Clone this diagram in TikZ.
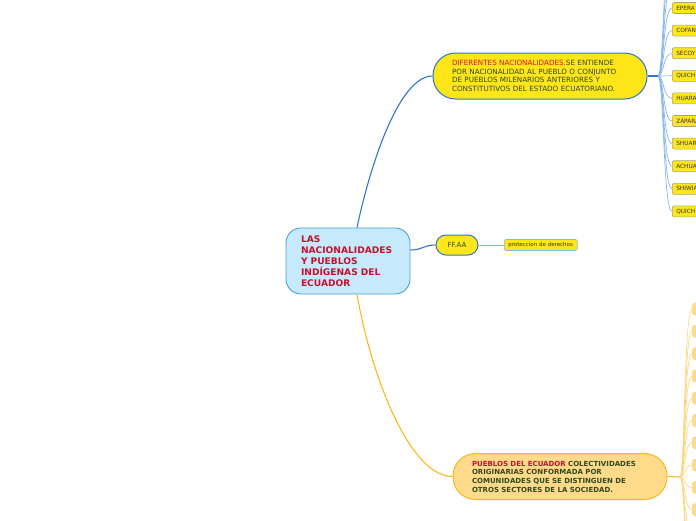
\documentclass[tikz,border=0pt]{standalone}
\usepackage{fontspec}
\setmainfont{DejaVu Sans}
\usepackage{tikz}
\usetikzlibrary{positioning}
\definecolor{rootfill}{HTML}{C6EAFB}
\definecolor{rootline}{HTML}{4A9FDB}
\definecolor{rootred}{HTML}{C8102E}
\definecolor{natyellow}{HTML}{FFE619}
\definecolor{natblue}{HTML}{2F74D0}
\definecolor{natfan}{HTML}{86B4EC}
\definecolor{puefill}{HTML}{FEDA8A}
\definecolor{pueline}{HTML}{FDB71E}
\definecolor{puefan}{HTML}{FDD77E}
\definecolor{textgreen}{HTML}{2E4A1E}
\definecolor{textred}{HTML}{E0102F}
\definecolor{boxline}{HTML}{A0A878}

\begin{document}
\begin{tikzpicture}[x=1pt, y=-1pt,
    root/.style={rectangle, rounded corners=15pt, draw=rootline, fill=rootfill,
      line width=0.9pt, text width=94pt, inner xsep=15pt, minimum height=66pt,
      align=left, text=rootred, font=\fontsize{9.1}{11}\selectfont\bfseries},
    idea/.style={rectangle, rounded corners=22.5pt, line width=1pt,
      text width=176pt, inner xsep=19pt, minimum height=46pt, align=left,
      text=textgreen, font=\fontsize{7.2}{8.7}\selectfont},
    natnode/.style={idea, draw=natblue, fill=natyellow},
    puenode/.style={idea, draw=pueline, fill=puefill, font=\fontsize{7}{8.7}\selectfont\bfseries},
    pill/.style={rectangle, rounded corners=10pt, draw=natblue, fill=natyellow,
      line width=1pt, minimum width=42pt, minimum height=20pt, text=textgreen,
      font=\fontsize{7}{8}\selectfont},
    tribe/.style={rectangle, rounded corners=2pt, draw=boxline, fill=natyellow,
      line width=0.6pt, anchor=west, text width=30pt, inner xsep=4pt,
      minimum height=11pt, inner ysep=1pt, align=left, text=black!80,
      font=\fontsize{5.8}{6.5}\selectfont},
    stub/.style={rectangle, rounded corners=3pt, draw=puefan, fill=puefill,
      line width=0.6pt, anchor=west, minimum width=20pt, minimum height=12pt},
    mainblue/.style={draw=natblue, line width=1.1pt},
    mainorange/.style={draw=pueline, line width=1.1pt},
    fanblue/.style={draw=natfan, line width=0.7pt},
    fanorange/.style={draw=puefan, line width=0.7pt},
  ]
    \useasboundingbox (0,0) rectangle (696,520);

    % central topic
    \node[root] (root) at (348,261) {LAS\\NACIONALIDADES\\Y PUEBLOS\\IND\'IGENAS DEL\\ECUADOR};

    % main branches
    \node[natnode] (nac) at (540,76) {\textcolor{textred}{DIFERENTES NACIONALIDADES.}SE ENTIENDE\\POR NACIONALIDAD AL PUEBLO O CONJUNTO\\DE PUEBLOS MILENARIOS ANTERIORES Y\\CONSTITUTIVOS DEL ESTADO ECUATORIANO.};
    \node[pill]    (ffaa) at (457,245) {FF.AA};
    \node[tribe, draw=natfan, text width=65pt, font=\fontsize{5.5}{6}\selectfont] (prot) at (504,245) {proteccion de derechos};
    \node[puenode] (pue) at (560,476.5) {\textcolor{rootred}{PUEBLOS DEL ECUADOR} COLECTIVIDADES\\ORIGINARIAS CONFORMADA POR\\COMUNIDADES QUE SE DISTINGUEN DE\\OTROS SECTORES DE LA SOCIEDAD.};

    \draw[mainblue] ([xshift=9pt]root.north) .. controls +(15,-70) and +(-32,0) .. (nac.west);
    \draw[mainblue] ([yshift=11pt]root.east) .. controls +(12,0) and +(-12,0) .. (ffaa.west);
    \draw[mainorange] ([xshift=9pt]root.south) .. controls +(15,85) and +(-42,0) .. (pue.west);
    \draw[fanblue] (ffaa.east) -- (prot.west);

    % nationalities column
    \node[tribe] (t1)  at (672,8)     {EPERA};
    \node[tribe] (t2)  at (672,30.6)  {COFAN};
    \node[tribe] (t3)  at (672,53.2)  {SECOY};
    \node[tribe] (t4)  at (672,75.8)  {QUICH};
    \node[tribe] (t5)  at (672,98.4)  {HUARA};
    \node[tribe] (t6)  at (672,121)   {Z\'APARA};
    \node[tribe] (t7)  at (672,143.6) {SHUAR};
    \node[tribe] (t8)  at (672,166.2) {ACHUA};
    \node[tribe] (t9)  at (672,188.8) {SHIWIA};
    \node[tribe] (t10) at (672,211.4) {QUICH};
    \coordinate (up1) at (672,-14.6);
    \coordinate (up2) at (672,-37.2);
    \coordinate (up3) at (672,-59.8);

    \coordinate (nacfan) at (658,76);
    \draw[mainblue] (nac.east) -- (nacfan);
    \draw[fanblue] (nacfan) .. controls +(6,0) and +(-9,0) .. (up3);
    \draw[fanblue] (nacfan) .. controls +(6,0) and +(-9,0) .. (up2);
    \draw[fanblue] (nacfan) .. controls +(6,0) and +(-9,0) .. (up1);
    \draw[fanblue] (nacfan) .. controls +(6,0) and +(-9,0) .. (t1.west);
    \draw[fanblue] (nacfan) .. controls +(6,0) and +(-9,0) .. (t2.west);
    \draw[fanblue] (nacfan) .. controls +(6,0) and +(-9,0) .. (t3.west);
    \draw[fanblue] (nacfan) -- (t4.west);
    \draw[fanblue] (nacfan) .. controls +(6,0) and +(-9,0) .. (t5.west);
    \draw[fanblue] (nacfan) .. controls +(6,0) and +(-9,0) .. (t6.west);
    \draw[fanblue] (nacfan) .. controls +(6,0) and +(-9,0) .. (t7.west);
    \draw[fanblue] (nacfan) .. controls +(6,0) and +(-9,0) .. (t8.west);
    \draw[fanblue] (nacfan) .. controls +(6,0) and +(-9,0) .. (t9.west);
    \draw[fanblue] (nacfan) .. controls +(6,0) and +(-9,0) .. (t10.west);

    % peoples column
    \node[stub] (p1)  at (692,309)   {};
    \node[stub] (p2)  at (692,331.3) {};
    \node[stub] (p3)  at (692,353.6) {};
    \node[stub] (p4)  at (692,375.9) {};
    \node[stub] (p5)  at (692,398.2) {};
    \node[stub] (p6)  at (692,420.5) {};
    \node[stub] (p7)  at (692,442.8) {};
    \node[stub] (p8)  at (692,465.1) {};
    \node[stub] (p9)  at (692,487.4) {};
    \node[stub] (p10) at (692,509.7) {};
    \coordinate (dn1) at (692,532);
    \coordinate (dn2) at (692,554.3);
    \coordinate (dn3) at (692,576.6);

    \coordinate (puefan) at (680,477);
    \draw[mainorange] (pue.east) -- (puefan);
    \draw[fanorange] (puefan) .. controls +(5,0) and +(-8,0) .. (p1.west);
    \draw[fanorange] (puefan) .. controls +(5,0) and +(-8,0) .. (p2.west);
    \draw[fanorange] (puefan) .. controls +(5,0) and +(-8,0) .. (p3.west);
    \draw[fanorange] (puefan) .. controls +(5,0) and +(-8,0) .. (p4.west);
    \draw[fanorange] (puefan) .. controls +(5,0) and +(-8,0) .. (p5.west);
    \draw[fanorange] (puefan) .. controls +(5,0) and +(-8,0) .. (p6.west);
    \draw[fanorange] (puefan) .. controls +(5,0) and +(-8,0) .. (p7.west);
    \draw[fanorange] (puefan) .. controls +(5,0) and +(-8,0) .. (p8.west);
    \draw[fanorange] (puefan) .. controls +(5,0) and +(-8,0) .. (p9.west);
    \draw[fanorange] (puefan) .. controls +(5,0) and +(-8,0) .. (p10.west);
    \draw[fanorange] (puefan) .. controls +(5,0) and +(-8,0) .. (dn1);
    \draw[fanorange] (puefan) .. controls +(5,0) and +(-8,0) .. (dn2);
    \draw[fanorange] (puefan) .. controls +(5,0) and +(-8,0) .. (dn3);
  \end{tikzpicture}
\end{document}
